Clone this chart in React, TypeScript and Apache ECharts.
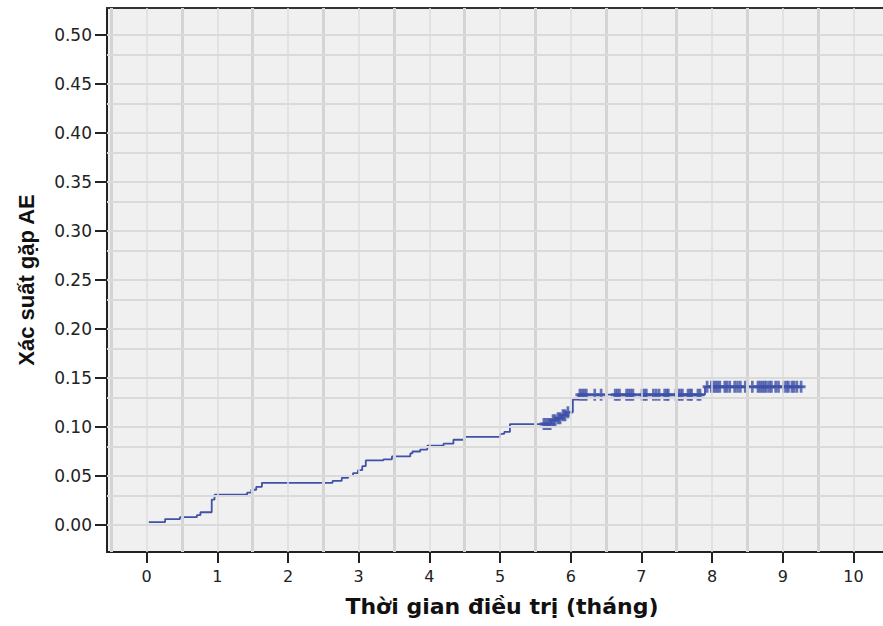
import React, { useEffect, useRef } from "react";
import * as echarts from "echarts";

// Kaplan-Meier style cumulative incidence: time (months) at which the value changes, and new value
const stepTimes = [
  0.03, 0.26, 0.47, 0.71, 0.76, 0.92, 0.96, 1.42, 1.48, 1.55, 1.63, 2.63, 2.76, 2.85, 2.92, 2.99,
  3.05, 3.1, 3.35, 3.47, 3.73, 3.76, 3.87, 3.97, 4.2, 4.34, 4.5, 5.0, 5.06, 5.14, 5.73, 5.8, 5.87,
  5.94, 6.03, 6.11, 7.9, 9.29,
];
const stepValues = [
  0.003, 0.006, 0.008, 0.01, 0.013, 0.026, 0.031, 0.033, 0.036, 0.039, 0.043, 0.045, 0.048, 0.05,
  0.053, 0.056, 0.06, 0.066, 0.067, 0.07, 0.073, 0.075, 0.077, 0.081, 0.083, 0.087, 0.09, 0.093,
  0.095, 0.103, 0.107, 0.109, 0.112, 0.115, 0.128, 0.133, 0.141, 0.141,
];
// censored observations (months)
const censorTimes = [
  5.62, 5.65, 5.68, 5.71, 5.75, 5.78, 5.82, 5.85, 5.89, 5.92, 5.96,
  6.13, 6.16, 6.19, 6.22, 6.34, 6.43, 6.63, 6.66, 6.69, 6.79, 6.82, 6.85, 6.88, 7.01, 7.04, 7.07,
  7.17, 7.21, 7.25, 7.33, 7.36, 7.38, 7.49, 7.52, 7.55, 7.58, 7.66, 7.69, 7.71, 7.8, 7.83,
  7.93, 7.99, 8.02, 8.05, 8.08, 8.11, 8.18, 8.21, 8.25, 8.32, 8.36, 8.4, 8.47, 8.57, 8.65, 8.68,
  8.71, 8.74, 8.77, 8.81, 8.84, 8.9, 8.94, 9.01, 9.05, 9.08, 9.13, 9.16, 9.2, 9.26,
];
const xTickValues = [0, 1, 2, 3, 4, 5, 6, 7, 8, 9, 10];
const yTickValues = [0, 0.05, 0.1, 0.15, 0.2, 0.25, 0.3, 0.35, 0.4, 0.45, 0.5];
const xTitle = "Thời gian điều trị (tháng)";
const yTitle = "Xác suất gặp AE";

function valueAt(t: number): number {
  let v = 0;
  for (let i = 0; i < stepTimes.length; i++) {
    if (stepTimes[i] <= t) v = stepValues[i];
  }
  return v;
}

export default function App() {
  const ref = useRef<HTMLDivElement>(null);

  useEffect(() => {
    if (!ref.current) return;
    const chart = echarts.init(ref.current, null, { renderer: "svg" });

    const xMin = -0.562;
    const xMax = 10.419;
    const yMin = -0.02755;
    const yMax = 0.5276;

    const gridData: any[] = [];
    for (let k = -1; k <= 20; k++) {
      const v = k * 0.5;
      const half = k % 2 !== 0;
      gridData.push({
        xAxis: v,
        lineStyle: half
          ? { color: "#d4d4d4", width: 3, type: "solid" }
          : { color: "#dedede", width: 1.5, type: "solid" },
      });
    }
    for (let k = -1; k <= 21; k++) {
      gridData.push({
        yAxis: k * 0.025,
        lineStyle: { color: "#dadada", width: 2, type: "solid" },
      });
    }

    const lineColor = "#3f51a9";

    chart.setOption({
      animation: false,
      backgroundColor: "#ffffff",
      grid: {
        left: 107,
        right: 0,
        top: 8,
        bottom: 74,
        show: true,
        backgroundColor: "#f0f0f0",
        borderWidth: 0,
      },
      xAxis: [
        {
          type: "value",
          min: xMin,
          max: xMax,
          axisLine: { show: true, onZero: false, lineStyle: { color: "#222", width: 2 } },
          axisTick: {
            show: true,
            customValues: xTickValues,
            length: 11,
            lineStyle: { color: "#222", width: 2 },
          },
          axisLabel: {
            customValues: xTickValues,
            margin: 16,
            fontFamily: "DejaVu Sans",
            fontSize: 16,
            color: "#222",
          },
          splitLine: { show: false },
          name: xTitle,
          nameLocation: "middle",
          nameGap: 43,
          nameTextStyle: {
            fontFamily: "DejaVu Sans",
            fontWeight: "bold",
            fontSize: 22,
            color: "#111",
            padding: [0, 0, 0, 14],
          },
        },
        {
          type: "value",
          position: "top",
          min: xMin,
          max: xMax,
          axisLine: { show: true, onZero: false, lineStyle: { color: "#333", width: 2 } },
          axisTick: { show: false },
          axisLabel: { show: false },
          splitLine: { show: false },
        },
      ],
      yAxis: {
        type: "value",
        min: yMin,
        max: yMax,
        axisLine: { show: true, onZero: false, lineStyle: { color: "#222", width: 2 } },
        axisTick: {
          show: true,
          customValues: yTickValues,
          length: 12,
          lineStyle: { color: "#222", width: 2 },
        },
        axisLabel: {
          customValues: yTickValues,
          margin: 15,
          fontFamily: "DejaVu Sans",
          fontSize: 17,
          color: "#222",
          formatter: (v: number) => v.toFixed(2),
        },
        splitLine: { show: false },
        name: yTitle,
        nameLocation: "middle",
        nameRotate: 90,
        nameGap: 70,
        nameTextStyle: {
          fontFamily: "Liberation Sans",
          fontWeight: "bold",
          fontSize: 22,
          color: "#111",
        },
      },
      series: [
        {
          type: "line",
          data: [[stepTimes[0], stepValues[0]]],
          showSymbol: false,
          lineStyle: { opacity: 0 },
          silent: true,
          z: 1,
          markLine: {
            silent: true,
            symbol: ["none", "none"],
            label: { show: false },
            animation: false,
            data: gridData,
          },
        },
        {
          type: "line",
          step: "end",
          data: stepTimes.map((t, i) => [t, stepValues[i]]),
          showSymbol: false,
          silent: true,
          lineStyle: { color: lineColor, width: 1.8 },
          z: 3,
        },
        {
          type: "scatter",
          data: censorTimes.map((t) => [t, valueAt(t)]),
          symbol: "path://M3.5,0H6.5V4.5H10V7.5H6.5V12H3.5V7.5H0V4.5H3.5Z",
          symbolSize: [9, 12],
          itemStyle: { color: lineColor },
          silent: true,
          z: 4,
        },
      ],
    });

    return () => chart.dispose();
  }, []);

  return (
    <div
      ref={ref}
      style={{ position: "fixed", left: 0, top: 0, width: 883, height: 626, background: "#fff" }}
    />
  );
}
